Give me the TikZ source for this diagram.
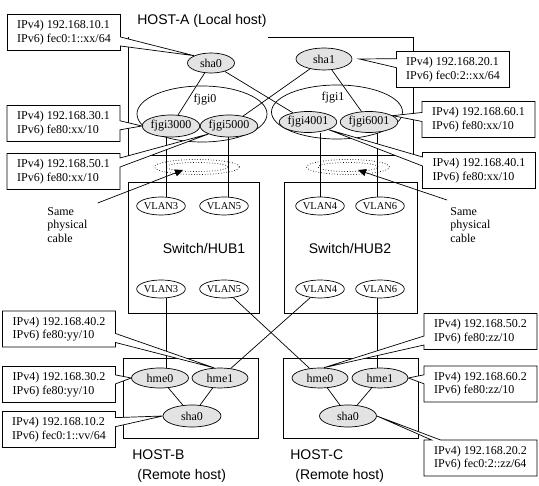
\documentclass[tikz,border=0pt]{standalone}
\usepackage{fontspec}
\setmainfont{Liberation Serif}
\newfontfamily\hostfont{Liberation Sans}
\usepackage{xcolor}
\usepackage{tikz}
\usetikzlibrary{arrows.meta,shapes}
\definecolor{ellC}{rgb}{0.89,0.89,0.89}

\begin{document}
\begin{tikzpicture}[x=1pt,y=-1pt,line width=0.7pt,
        ifC/.style={ellipse,draw,fill=ellC,inner sep=0pt,font=\fontsize{12}{13}\selectfont},
        grpC/.style={ellipse,draw,inner sep=0pt},
        vlanC/.style={ellipse,draw,inner sep=0pt,minimum width=45pt,minimum height=18pt,font=\fontsize{10.5}{12}\selectfont},
        cableC/.style={ellipse,draw,dotted,inner sep=0pt},
        ipC/.style={rectangle callout,draw,fill=white,minimum width=113pt,minimum height=36pt,
            align=left,inner sep=0pt,callout pointer width=9pt,font=\fontsize{12}{13.5}\selectfont},
        hostT/.style={font=\hostfont\fontsize{14}{20}\selectfont,align=left,inner sep=0pt},
        noteT/.style={font=\fontsize{12}{13.5}\selectfont,align=left,inner sep=0pt},
        cabArrow/.style={-{Triangle[length=8pt,width=7pt]}}]
        \newcommand\ipBox[4]{\node[ipC,callout absolute pointer={#2}] (#1) at #3 {#4};}
        \useasboundingbox (0,0) rectangle (539,486);

        % boxes
        \draw (268,37) -| (413,155) -| (128,37);
        \draw (128,182) rectangle (259,313);
        \draw (284,182) rectangle (417,313);
        \draw (123,358) rectangle (258,438);
        \draw (283,358) rectangle (418,438);

        \node[hostT,anchor=west] (hostA) at (137,21) {HOST-A (Local host)};
        \node[hostT] (hub1) at (204,248) {Switch/HUB1};
        \node[hostT] (hub2) at (350,248) {Switch/HUB2};
        \node[hostT,anchor=north west] (hostB) at (132,449) {HOST-B\\\hspace*{5pt}(Remote host)};
        \node[hostT,anchor=north west] (hostC) at (290,449) {HOST-C\\\hspace*{5pt}(Remote host)};

        % HOST-A
        \node[ifC,minimum width=47pt,minimum height=20pt] (sha0A) at (211,63) {sha0};
        \node[ifC,minimum width=56pt,minimum height=22pt] (sha1A) at (324,59) {sha1};
        \node[grpC,minimum width=130pt,minimum height=56pt] (fjgi0) at (202,114) {};
        \node[grpC,minimum width=131pt,minimum height=54pt] (fjgi1) at (337,112) {};
        \node[font=\fontsize{12}{13}\selectfont] (fjgi0L) at (205,100) {fjgi0};
        \node[font=\fontsize{12}{13}\selectfont] (fjgi1L) at (333,98) {fjgi1};
        \node[ifC,minimum width=55pt,minimum height=22pt] (fjgi3000) at (171,126) {fjgi3000};
        \node[ifC,minimum width=52pt,minimum height=22pt] (fjgi5000) at (229,126) {fjgi5000};
        \node[ifC,minimum width=57pt,minimum height=21pt] (fjgi4001) at (308,122) {fjgi4001};
        \node[ifC,minimum width=57pt,minimum height=21pt] (fjgi6001) at (369,122) {fjgi6001};

        % switches
        \node[vlanC] (vlan3T) at (161,206) {VLAN3};
        \node[vlanC] (vlan5T) at (224,206) {VLAN5};
        \node[vlanC] (vlan4T) at (320,206) {VLAN4};
        \node[vlanC] (vlan6T) at (380,206) {VLAN6};
        \node[vlanC] (vlan3B) at (161,289) {VLAN3};
        \node[vlanC] (vlan5B) at (224,289) {VLAN5};
        \node[vlanC] (vlan4B) at (320,289) {VLAN4};
        \node[vlanC] (vlan6B) at (380,289) {VLAN6};

        % HOST-B and HOST-C
        \node[ifC,minimum width=57pt,minimum height=20pt] (hme0B) at (160,378) {hme0};
        \node[ifC,minimum width=56pt,minimum height=20pt] (hme1B) at (220,378) {hme1};
        \node[ifC,minimum width=58pt,minimum height=22pt] (sha0B) at (192,416) {sha0};
        \node[ifC,minimum width=56pt,minimum height=20pt] (hme0C) at (320,378) {hme0};
        \node[ifC,minimum width=56pt,minimum height=20pt] (hme1C) at (380,378) {hme1};
        \node[ifC,minimum width=57pt,minimum height=22pt] (sha0C) at (348,416) {sha0};

        % cable x positions
        \coordinate (cab3) at (166,0);
        \coordinate (cab5) at (228,0);
        \coordinate (cab4) at (320,0);
        \coordinate (cab6) at (377,0);

        \draw (sha0A) -- (fjgi3000);
        \draw (sha0A) -- (fjgi4001);
        \draw (sha1A) -- (fjgi5000);
        \draw (sha1A) -- (fjgi6001);
        \draw (fjgi3000.south -| cab3) -- (vlan3T.north -| cab3);
        \draw (fjgi5000.south -| cab5) -- (vlan5T.north -| cab5);
        \draw (fjgi4001.south -| cab4) -- (vlan4T.north -| cab4);
        \draw (fjgi6001.south -| cab6) -- (vlan6T.north -| cab6);
        \draw (vlan3B.south -| cab3) -- (hme0B.north -| cab3);
        \draw (vlan5B) -- (hme0C);
        \draw (vlan4B) -- (hme1B);
        \draw (vlan6B.south -| cab6) -- (hme1C.north -| cab6);
        \draw (hme0B) -- (sha0B);
        \draw (hme1B) -- (sha0B);
        \draw (hme0C) -- (sha0C);
        \draw (hme1C) -- (sha0C);

        % same physical cable
        \node[cableC,minimum width=85pt,minimum height=15pt] (cabA) at (197,167) {};
        \node[cableC,minimum width=62pt,minimum height=9pt] (cabAin) at (197,167) {};
        \node[cableC,minimum width=83pt,minimum height=15pt] (cabB) at (348,167) {};
        \node[cableC,minimum width=60pt,minimum height=9pt] (cabBin) at (348,167) {};
        \node[noteT,anchor=north west] (sameL) at (47,207) {Same\\physical\\cable};
        \node[noteT,anchor=north west] (sameR) at (450,207) {Same\\physical\\cable};
        \coordinate (tipA) at (183,170);
        \coordinate (tipB) at (358,170);
        \draw[cabArrow] ([shift={(10,-4)}]sameL.north east) -- (tipA);
        \draw[cabArrow] ([shift={(-3,-7)}]sameR.north west) -- (tipB);

        % addresses
        \ipBox{ip10A}{(sha0A.north west)}{(64,32.5)}{IPv4) 192.168.10.1\\IPv6) fec0:1::xx/64}
        \ipBox{ip20A}{([xshift=7pt]sha1A.east)}{(453,69.5)}{IPv4) 192.168.20.1\\IPv6) fec0:2::xx/64}
        \ipBox{ip30A}{(fjgi3000.west)}{(63.5,123.5)}{IPv4) 192.168.30.1\\IPv6) fe80:xx/10}
        \ipBox{ip50A}{(fjgi5000.south west)}{(63.5,171.5)}{IPv4) 192.168.50.1\\IPv6) fe80:xx/10}
        \ipBox{ip60A}{(fjgi6001.15)}{(478.5,119.5)}{IPv4) 192.168.60.1\\IPv6) fe80:xx/10}
        \ipBox{ip40A}{(fjgi4001.south east)}{(479,170.5)}{IPv4) 192.168.40.1\\IPv6) fe80:xx/10}
        \ipBox{ip40B}{(hme1B.120)}{(59,329)}{IPv4) 192.168.40.2\\IPv6) fe80:yy/10}
        \ipBox{ip30B}{(hme0B.west)}{(59,384.5)}{IPv4) 192.168.30.2\\IPv6) fe80:yy/10}
        \ipBox{ip10B}{(sha0B.west)}{(59,429.5)}{IPv4) 192.168.10.2\\IPv6) fec0:1::vv/64}
        \ipBox{ip50B}{(hme0C.70)}{(480.5,331.5)}{IPv4) 192.168.50.2\\IPv6) fe80:zz/10}
        \ipBox{ip60B}{(hme1C.east)}{(480.5,384)}{IPv4) 192.168.60.2\\IPv6) fe80:zz/10}
        \ipBox{ip20B}{(sha0C.east)}{(480.5,458)}{IPv4) 192.168.20.2\\IPv6) fec0:2::zz/64}
\end{tikzpicture}
\end{document}
